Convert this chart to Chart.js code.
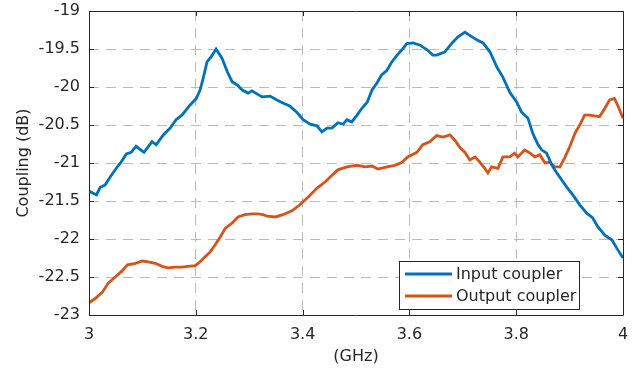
<!DOCTYPE html>
<html>
<head>
<meta charset="utf-8">
<script src="https://cdn.jsdelivr.net/npm/chart.js@4/dist/chart.umd.min.js"></script>
<style>
html,body{margin:0;padding:0;background:#fff;}
#wrap{width:640px;height:372px;position:relative;}
</style>
</head>
<body>
<div id="wrap"><canvas id="c" width="640" height="372"></canvas></div>
<script>
const inputFreq = [3.000,3.014,3.021,3.030,3.040,3.053,3.059,3.070,3.079,3.088,3.103,3.118,3.126,3.139,3.152,3.163,3.174,3.189,3.201,3.208,3.214,3.221,3.229,3.238,3.249,3.259,3.268,3.277,3.287,3.298,3.305,3.324,3.339,3.352,3.363,3.376,3.390,3.401,3.414,3.427,3.436,3.446,3.455,3.466,3.476,3.483,3.492,3.502,3.511,3.521,3.530,3.539,3.548,3.558,3.567,3.577,3.586,3.595,3.607,3.620,3.633,3.644,3.651,3.666,3.680,3.691,3.704,3.713,3.726,3.738,3.751,3.764,3.775,3.788,3.801,3.810,3.822,3.831,3.841,3.848,3.857,3.867,3.876,3.885,3.895,3.906,3.919,3.932,3.943,3.953,3.966,3.979,3.990,4.000];
const inputCoupling = [-21.37,-21.42,-21.32,-21.29,-21.18,-21.05,-21.00,-20.88,-20.86,-20.78,-20.86,-20.72,-20.76,-20.63,-20.54,-20.43,-20.37,-20.24,-20.15,-20.04,-19.88,-19.67,-19.60,-19.50,-19.62,-19.80,-19.93,-19.97,-20.04,-20.08,-20.05,-20.13,-20.12,-20.17,-20.21,-20.25,-20.34,-20.43,-20.49,-20.51,-20.59,-20.54,-20.54,-20.47,-20.49,-20.43,-20.46,-20.37,-20.28,-20.20,-20.04,-19.95,-19.84,-19.78,-19.67,-19.58,-19.51,-19.43,-19.42,-19.45,-19.51,-19.58,-19.58,-19.54,-19.42,-19.34,-19.28,-19.32,-19.38,-19.42,-19.54,-19.74,-19.87,-20.07,-20.20,-20.33,-20.41,-20.61,-20.76,-20.83,-20.87,-21.03,-21.13,-21.22,-21.32,-21.42,-21.55,-21.66,-21.72,-21.84,-21.95,-22.01,-22.14,-22.25];
const outputFreq = [3.000,3.012,3.025,3.036,3.049,3.062,3.072,3.087,3.100,3.111,3.124,3.137,3.148,3.161,3.174,3.185,3.199,3.208,3.218,3.227,3.236,3.246,3.255,3.268,3.279,3.292,3.305,3.317,3.326,3.334,3.349,3.363,3.380,3.395,3.410,3.427,3.442,3.455,3.466,3.483,3.502,3.517,3.530,3.541,3.558,3.573,3.586,3.597,3.614,3.625,3.638,3.651,3.663,3.676,3.685,3.695,3.704,3.713,3.723,3.732,3.741,3.747,3.754,3.766,3.775,3.788,3.797,3.803,3.816,3.826,3.835,3.844,3.854,3.863,3.872,3.882,3.891,3.900,3.910,3.919,3.928,3.938,3.947,3.956,3.966,3.975,3.984,3.990,4.000];
const outputCoupling = [-22.84,-22.78,-22.70,-22.58,-22.50,-22.42,-22.34,-22.32,-22.29,-22.30,-22.32,-22.36,-22.38,-22.37,-22.37,-22.36,-22.35,-22.30,-22.23,-22.17,-22.08,-21.97,-21.86,-21.79,-21.71,-21.68,-21.67,-21.67,-21.68,-21.70,-21.71,-21.68,-21.63,-21.55,-21.45,-21.33,-21.25,-21.16,-21.09,-21.05,-21.03,-21.05,-21.04,-21.08,-21.05,-21.03,-20.99,-20.92,-20.86,-20.76,-20.72,-20.64,-20.66,-20.63,-20.70,-20.80,-20.86,-20.96,-20.92,-20.99,-21.07,-21.13,-21.05,-21.07,-20.92,-20.92,-20.87,-20.92,-20.83,-20.87,-20.92,-20.89,-21.00,-20.99,-21.05,-21.05,-20.93,-20.79,-20.61,-20.50,-20.37,-20.37,-20.38,-20.39,-20.28,-20.17,-20.15,-20.24,-20.41];
const seriesNames = ['Input coupler','Output coupler'];
const xTickValues = [3, 3.2, 3.4, 3.6, 3.8, 4];
const xTickLabels = ['3','3.2','3.4','3.6','3.8','4'];
const yTickValues = [-23,-22.5,-22,-21.5,-21,-20.5,-20,-19.5,-19];
const yTickLabels = ['-23','-22.5','-22','-21.5','-21','-20.5','-20','-19.5','-19'];
const xTitle = '(GHz)';
const yTitle = 'Coupling (dB)';

const FONT = "'DejaVu Sans', Verdana, sans-serif";
const colors = ['#0072BD', '#D95319'];
const toPts = (xs, ys) => xs.map((x, i) => ({x: x, y: ys[i]}));

const boxPlugin = {
  id: 'box',
  afterDatasetsDraw(chart) {
    const {ctx, chartArea: a, scales} = chart;
    ctx.save();
    ctx.strokeStyle = '#262626';
    ctx.lineWidth = 1;
    ctx.setLineDash([]);
    ctx.beginPath();
    ctx.rect(Math.round(a.left) + 0.5, Math.round(a.top) + 0.5, Math.round(a.right - a.left), Math.round(a.bottom - a.top));
    ctx.stroke();
    const tl = 5;
    ctx.beginPath();
    xTickValues.forEach(v => {
      const x = Math.round(scales.x.getPixelForValue(v)) + 0.5;
      ctx.moveTo(x, a.bottom); ctx.lineTo(x, a.bottom - tl);
      ctx.moveTo(x, a.top); ctx.lineTo(x, a.top + tl);
    });
    yTickValues.forEach(v => {
      const y = Math.round(scales.y.getPixelForValue(v)) + 0.5;
      ctx.moveTo(a.left, y); ctx.lineTo(a.left + tl, y);
      ctx.moveTo(a.right, y); ctx.lineTo(a.right - tl, y);
    });
    ctx.stroke();
    // legend
    const lx = 399.5, ly = 261.5, lw = 180, lh = 48;
    ctx.fillStyle = '#fff';
    ctx.fillRect(lx, ly, lw, lh);
    ctx.strokeStyle = '#262626';
    ctx.strokeRect(lx, ly, lw, lh);
    ctx.font = '16px ' + FONT;
    ctx.textBaseline = 'middle';
    ctx.textAlign = 'left';
    chart.data.datasets.forEach((ds, i) => {
      const yy = 274 + i * 22;
      ctx.strokeStyle = ds.borderColor;
      ctx.lineWidth = 3;
      ctx.beginPath(); ctx.moveTo(405, yy); ctx.lineTo(452, yy); ctx.stroke();
      ctx.fillStyle = '#262626';
      ctx.fillText(ds.label, 456, yy + 1);
    });
    ctx.restore();
  }
};

new Chart(document.getElementById('c'), {
  type: 'line',
  data: {
    datasets: [
      {label: seriesNames[0], data: toPts(inputFreq, inputCoupling), borderColor: colors[0], borderWidth: 2.8, pointRadius: 0, tension: 0, fill: false},
      {label: seriesNames[1], data: toPts(outputFreq, outputCoupling), borderColor: colors[1], borderWidth: 2.8, pointRadius: 0, tension: 0, fill: false}
    ]
  },
  options: {
    responsive: false,
    animation: false,
    devicePixelRatio: 1,
    layout: {padding: {left: 0, right: 17, top: 11, bottom: 0}},
    plugins: {legend: {display: false}, tooltip: {enabled: false}},
    scales: {
      x: {
        type: 'linear', min: 3, max: 4,
        afterBuildTicks: (s) => { s.ticks = xTickValues.map(v => ({value: v})); },
        afterFit: (s) => { s.height = 57; s.paddingLeft = 0; s.paddingRight = 0; },
        ticks: {
          callback: (v) => xTickLabels[xTickValues.indexOf(v)] ?? '',
          font: {family: FONT, size: 16}, color: '#262626', padding: 10, maxRotation: 0
        },
        grid: {
          drawTicks: false,
          color: (c) => (c.tick && (c.tick.value === 3 || c.tick.value === 4)) ? 'rgba(0,0,0,0)' : 'rgba(175,175,175,0.85)',
          lineWidth: 1
        },
        border: {display: false, dash: [10, 7]},
        title: {display: true, text: xTitle, font: {family: FONT, size: 16}, color: '#262626', padding: {top: 0, bottom: 6}}
      },
      y: {
        type: 'linear', min: -23, max: -19,
        afterBuildTicks: (s) => { s.ticks = yTickValues.map(v => ({value: v})); },
        afterFit: (s) => { s.width = 89; s.paddingTop = 0; s.paddingBottom = 0; },
        ticks: {
          callback: (v) => yTickLabels[yTickValues.indexOf(v)] ?? '',
          font: {family: FONT, size: 16}, color: '#262626', padding: 9
        },
        grid: {
          drawTicks: false,
          color: (c) => (c.tick && (c.tick.value === -23 || c.tick.value === -19)) ? 'rgba(0,0,0,0)' : 'rgba(175,175,175,0.85)',
          lineWidth: 1
        },
        border: {display: false, dash: [10, 7]},
        title: {display: true, text: yTitle, font: {family: FONT, size: 16}, color: '#262626', padding: {top: 14, bottom: 0}}
      }
    }
  },
  plugins: [boxPlugin]
});
</script>
</body>
</html>
